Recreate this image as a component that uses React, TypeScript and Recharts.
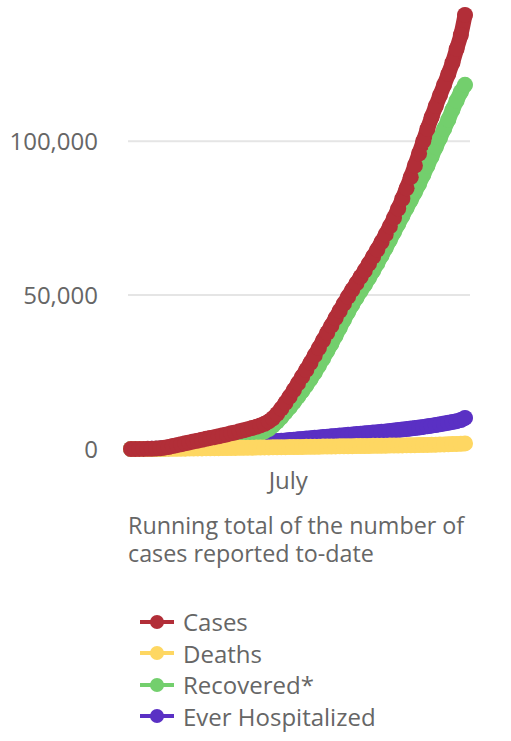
import { LineChart, Line, XAxis, YAxis, CartesianGrid } from "recharts";

// days since the first report (every third day), July 1 = day 113
const days = [
  0, 3, 6, 9, 12, 15, 18, 21, 24, 27,
  30, 33, 36, 39, 42, 45, 48, 51, 54, 57,
  60, 63, 66, 69, 72, 75, 78, 81, 84, 87,
  90, 93, 96, 99, 102, 105, 108, 111, 114, 117,
  120, 123, 126, 129, 132, 135, 138, 141, 144, 147,
  150, 153, 156, 159, 162, 165, 168, 171, 174, 177,
  180, 183, 186, 189, 192, 195, 198, 201, 204, 207,
  210, 213, 216, 219, 222, 225, 228, 231, 234, 237,
  240,
];

const cases = [
  0, 10, 20, 40, 60, 90, 150, 250, 420, 650,
  950, 1250, 1550, 1850, 2150, 2450, 2700, 3000, 3300, 3600,
  3850, 4150, 4450, 4750, 5100, 5400, 5750, 6100, 6450, 6800,
  7200, 7650, 8200, 8950, 10000, 11400, 13100, 15000, 17000, 19100,
  21300, 23500, 25700, 28000, 30400, 32800, 35300, 37700, 40100, 42500,
  44900, 47200, 49500, 51700, 53800, 55900, 58000, 60200, 62500, 64800,
  67200, 69700, 72300, 75100, 78100, 81300, 84700, 88300, 92100, 96000,
  100000, 104000, 107800, 111400, 114900, 118300, 121800, 125500, 130000, 134500,
  141000,
];

const deaths = [
  0, 0, 0, 0, 5, 10, 15, 25, 35, 50,
  65, 80, 100, 120, 140, 160, 180, 200, 220, 240,
  260, 280, 300, 320, 340, 360, 380, 400, 420, 440,
  460, 480, 500, 520, 540, 560, 580, 600, 620, 640,
  660, 680, 700, 720, 740, 760, 780, 800, 820, 840,
  860, 880, 900, 920, 940, 960, 980, 1000, 1020, 1040,
  1060, 1080, 1100, 1120, 1140, 1160, 1190, 1220, 1250, 1280,
  1310, 1340, 1380, 1420, 1460, 1500, 1550, 1600, 1650, 1700,
  1800,
];

const recovered = [
  0, 0, 0, 10, 20, 40, 70, 110, 170, 250,
  350, 480, 620, 780, 950, 1120, 1300, 1500, 1720, 1950,
  2200, 2450, 2700, 2950, 3250, 3500, 3750, 4000, 4250, 4550,
  4850, 5200, 5700, 6500, 7600, 8900, 10300, 11900, 13500, 15200,
  17000, 18800, 20700, 22700, 24800, 27100, 29400, 31800, 34200, 36800,
  39400, 42000, 44500, 46900, 49100, 51300, 53400, 55600, 57900, 60300,
  62800, 65300, 67900, 70500, 73100, 75700, 78300, 80800, 83400, 86100,
  89000, 92000, 95000, 98000, 101000, 104000, 107000, 110200, 113200, 116000,
  118300,
];

const hospitalized = [
  0, 0, 10, 20, 40, 60, 90, 130, 180, 240,
  300, 380, 460, 540, 620, 700, 780, 860, 940, 1020,
  1100, 1180, 1260, 1340, 1420, 1500, 1600, 1700, 1800, 1900,
  2000, 2100, 2200, 2320, 2440, 2560, 2680, 2800, 2920, 3040,
  3160, 3280, 3400, 3520, 3640, 3760, 3880, 4000, 4120, 4240,
  4360, 4480, 4600, 4720, 4840, 4960, 5080, 5200, 5330, 5460,
  5590, 5720, 5860, 6000, 6150, 6300, 6460, 6620, 6800, 6980,
  7170, 7370, 7580, 7800, 8030, 8270, 8520, 8780, 9050, 9400,
  10100,
];

const xTicks = [113];
const xTickLabels = ["July"];
const yTicks = [0, 50000, 100000];

const captionLines = ["Running total of the number of", "cases reported to-date"];

const series = [
  { key: "cases", name: "Cases", color: "#b22e38" },
  { key: "deaths", name: "Deaths", color: "#fed762" },
  { key: "recovered", name: "Recovered*", color: "#73cf6d" },
  { key: "hospitalized", name: "Ever Hospitalized", color: "#5a30c4" },
];

const data = days.map((day, i) => ({
  day,
  cases: cases[i],
  deaths: deaths[i],
  recovered: recovered[i],
  hospitalized: hospitalized[i],
}));

const font = "'Open Sans', sans-serif";
const textColor = "#666666";

export default function App() {
  // first series is drawn on top, so render in reverse
  const drawOrder = [...series].reverse();
  return (
    <div style={{ position: "absolute", left: 0, top: 0, width: 511, height: 741, background: "#fff", fontFamily: font }}>
      <LineChart width={511} height={500} data={data} margin={{ top: 15, right: 41, left: 0, bottom: 11 }}>
        <CartesianGrid vertical={false} stroke="#e5e5e5" strokeWidth={2} horizontalValues={yTicks} />
        <XAxis
          dataKey="day"
          type="number"
          domain={[0, 240]}
          ticks={xTicks}
          tickFormatter={(v) => xTickLabels[xTicks.indexOf(v)] ?? ""}
          axisLine={false}
          tickLine={false}
          tickMargin={17}
          height={40}
          padding={{ left: 3, right: 5 }}
          tick={{ fontSize: 24, fill: textColor, fontFamily: font }}
        />
        <YAxis
          domain={[0, 141000]}
          ticks={yTicks}
          tickFormatter={(v) => Number(v).toLocaleString("en-US")}
          axisLine={false}
          tickLine={false}
          tickMargin={24}
          width={128}
          tick={{ fontSize: 24, fill: textColor, fontFamily: font }}
        />
        {drawOrder.map((s) => (
          <Line
            key={s.key}
            dataKey={s.key}
            name={s.name}
            type="monotone"
            stroke={s.color}
            strokeWidth={15}
            strokeLinecap="round"
            strokeLinejoin="round"
            dot={{ r: 8, fill: s.color, stroke: "none" }}
            isAnimationActive={false}
          />
        ))}
      </LineChart>
      {captionLines.map((line, i) => (
        <div
          key={line}
          style={{
            position: "absolute",
            left: 128,
            top: 512 + i * 28,
            height: 26,
            fontSize: 23.3,
            lineHeight: "26px",
            color: textColor,
            whiteSpace: "nowrap",
          }}
        >
          {line}
        </div>
      ))}
      <div style={{ position: "absolute", left: 140, top: 606 }}>
        {series.map((s) => (
          <div key={s.key} style={{ display: "flex", alignItems: "center", height: 31.5, fontSize: 24, color: textColor }}>
            <svg width={34} height={16} style={{ marginRight: 9 }}>
              <line x1={0} y1={8} x2={34} y2={8} stroke={s.color} strokeWidth={4} />
              <circle cx={17} cy={8} r={7} fill={s.color} />
            </svg>
            <span>{s.name}</span>
          </div>
        ))}
      </div>
    </div>
  );
}
